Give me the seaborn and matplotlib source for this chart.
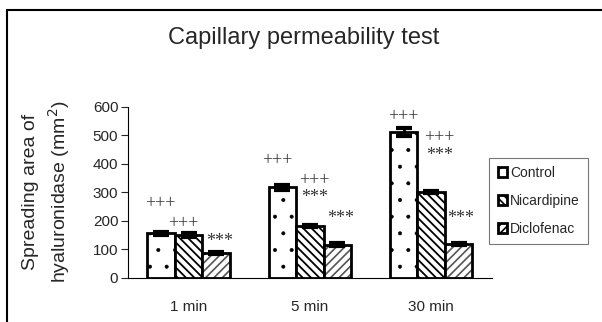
import numpy as np
import matplotlib
matplotlib.use("Agg")
import matplotlib.pyplot as plt
from matplotlib.patches import Patch
from matplotlib.lines import Line2D
import pandas as pd
import seaborn as sns

#%% Dati
times = ["1 min", "5 min", "30 min"]
groups = ["Control", "Nicardipine", "Diclofenac"]
control = [156, 318, 512]
nicardipine = [150, 182, 300]
diclofenac = [86, 115, 118]
control_err = [6, 9, 14]
nicardipine_err = [7, 4, 4]
diclofenac_err = [3, 5, 4]
# etichette di significativita' (per gruppo, per tempo)
signif = {
    "Control": ["+++", "+++", "+++"],
    "Nicardipine": ["+++", "+++\n***", "+++\n***"],
    "Diclofenac": ["***", "***", "***"],
}

#%% Tabella
df = pd.DataFrame({
    "time": times * 3,
    "group": np.repeat(groups, len(times)),
    "area": control + nicardipine + diclofenac,
})
errs = {"Control": control_err, "Nicardipine": nicardipine_err, "Diclofenac": diclofenac_err}

#%% Plot
sns.set_style("white")
plt.rcParams["font.family"] = ["Liberation Sans", "DejaVu Sans"]
plt.rcParams["hatch.linewidth"] = 1.2

fig = plt.figure(figsize=(6.02, 3.22), dpi=100)
ax = fig.add_axes([0.2126, 0.1376, 0.6044, 0.531])

pal = {"Control": "white", "Nicardipine": "white", "Diclofenac": "white"}
sns.barplot(data=df, x="time", y="area", hue="group", order=times, hue_order=groups,
            palette=pal, width=0.68, gap=0, errorbar=None, legend=False,
            edgecolor="black", linewidth=2, saturation=1, ax=ax)

hatches = {"Control": ".", "Nicardipine": "\\\\\\\\", "Diclofenac": "////"}
hatch_col = {"Control": "black", "Nicardipine": "black", "Diclofenac": "#555555"}
hatch_lw = {"Control": 0.4, "Nicardipine": 1.3, "Diclofenac": 1.2}
# posizione delle etichette (centro, unita' dati) e piccolo spostamento in x
mark_y = {
    "Control": [260, 412, 565],
    "Nicardipine": [191, 310, 460],
    "Diclofenac": [126, 206, 206],
}
mark_dx = {"Control": [-0.01, -0.04, 0], "Nicardipine": [-0.04, 0.04, 0.07], "Diclofenac": [0.03, 0.03, 0.02]}
for g, cont in zip(groups, ax.containers):
    xs = []
    for bar in cont:
        bar.set_hatch(hatches[g])
        bar._hatch_color = matplotlib.colors.to_rgba(hatch_col[g])
        if hasattr(bar, "set_hatch_linewidth"):
            bar.set_hatch_linewidth(hatch_lw[g])
        xs.append(bar.get_x() + bar.get_width() / 2)
    vals = [b.get_height() for b in cont]
    ax.errorbar(xs, vals, yerr=errs[g], fmt="none", ecolor="black",
                elinewidth=2, capsize=6, capthick=3, zorder=5)
    for x, dx, y, s in zip(xs, mark_dx[g], mark_y[g], signif[g]):
        ax.text(x + dx, y, s, ha="center", va="center", fontsize=13,
                family=["Liberation Serif"], color="#333333", linespacing=1.0)

ax.set_xlim(-0.5, 2.5)
ax.set_ylim(0, 600)
ax.set_yticks(range(0, 601, 100))
ax.set_xlabel("")
ax.set_ylabel("Spreading area of\nhyaluronidase (mm$^2$)", fontsize=14, labelpad=15,
              linespacing=1.35)
sns.despine(ax=ax)
for s in ["left", "bottom"]:
    ax.spines[s].set_linewidth(0.8)
    ax.spines[s].set_color("black")
ax.set_xticks([0, 1, 2])
ax.set_xticks([-0.5, 0.5, 1.5, 2.5], minor=True)
ax.tick_params(axis="x", which="major", length=0, pad=16, labelsize=11)
ax.tick_params(axis="x", which="minor", length=5, width=0.8, direction="out")
ax.tick_params(axis="y", length=5, width=0.8, direction="out", left=True, labelsize=11, pad=2)

fig.text(0.505, 0.882, "Capillary permeability test", ha="center", va="center", fontsize=17)

handles = [Patch(facecolor="white", edgecolor="black", linewidth=2, hatch=hatches[g]) for g in groups]
leg = fig.legend(handles, groups, loc="upper left", bbox_to_anchor=(0.813, 0.51),
                 fontsize=10, frameon=True, fancybox=False, edgecolor="#555555",
                 handlelength=0.7, handleheight=0.7, handletextpad=0.2,
                 labelspacing=1.0, borderpad=0.6, borderaxespad=0)
leg.get_frame().set_linewidth(0.8)

# cornice
fig.add_artist(Line2D([0.012, 0.012], [0, 0.969], color="black", lw=1.5, transform=fig.transFigure))
fig.add_artist(Line2D([0.012, 1], [0.969, 0.969], color="black", lw=1.5, transform=fig.transFigure))

fig.savefig("out.png", dpi=100)
